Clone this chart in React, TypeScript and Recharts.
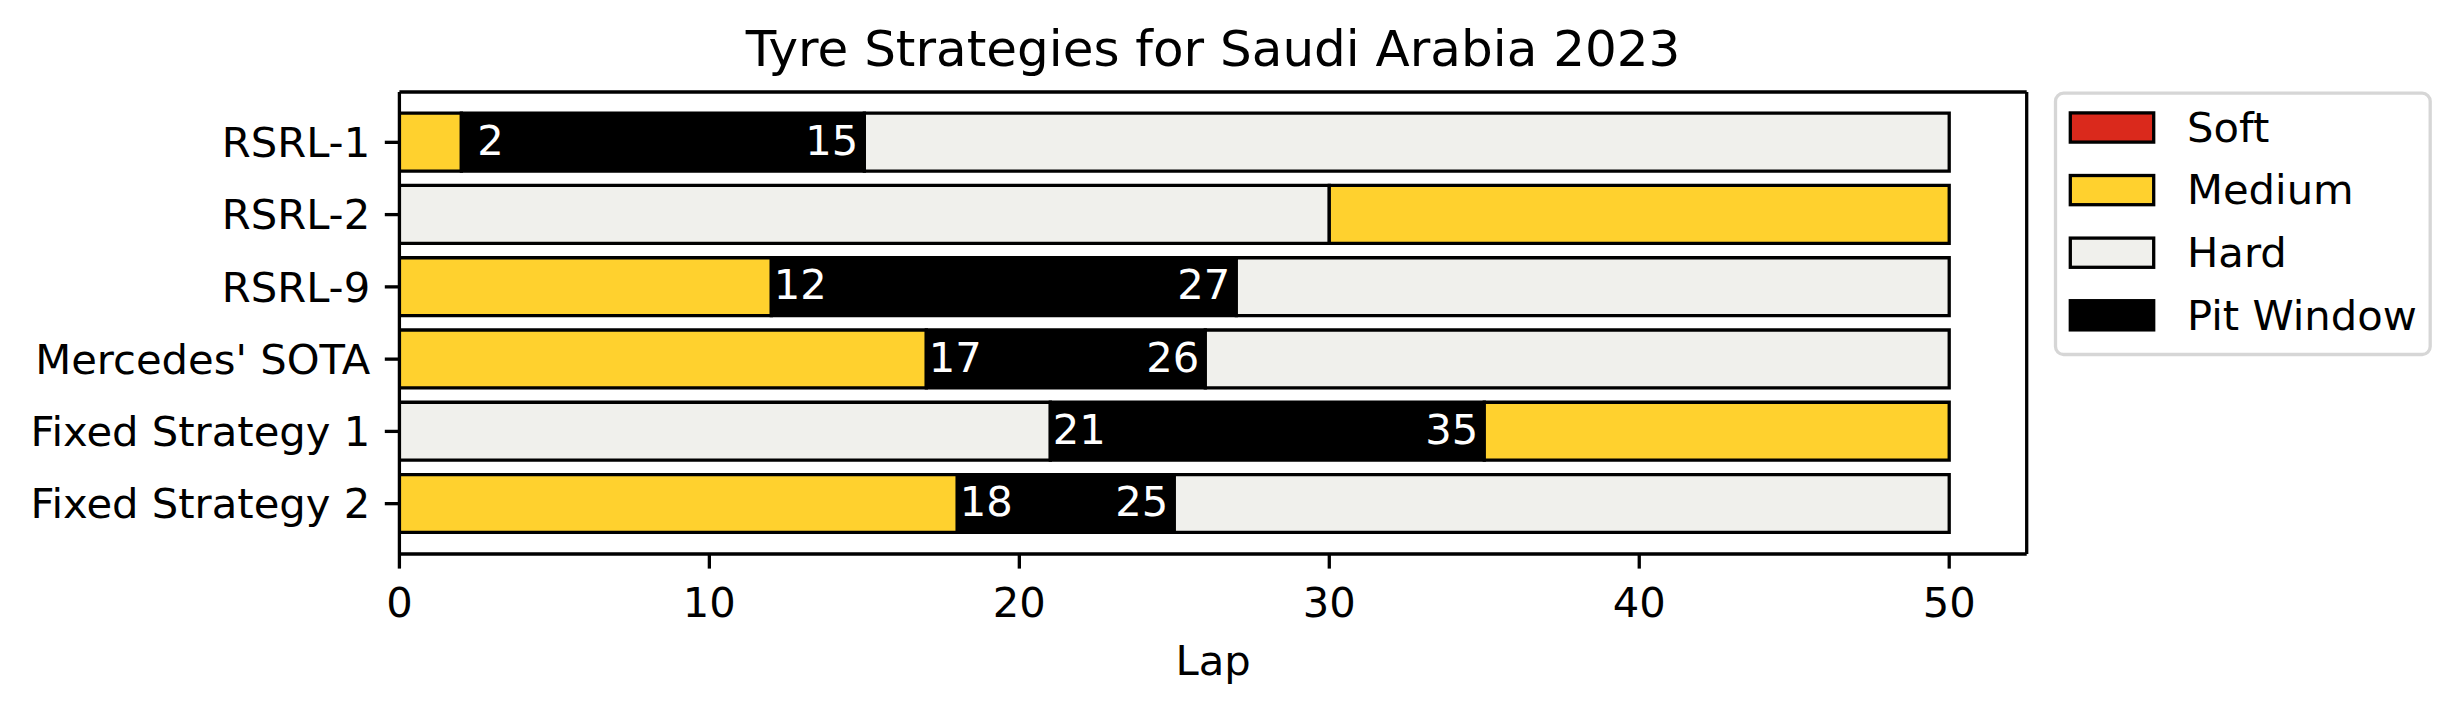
import { BarChart, Bar, XAxis, YAxis, Legend, Cell, Rectangle } from 'recharts'

// strategies, top to bottom
const strategies = ['RSRL-1', 'RSRL-2', 'RSRL-9', "Mercedes' SOTA", 'Fixed Strategy 1', 'Fixed Strategy 2']
const firstStint = ['MEDIUM', 'HARD', 'MEDIUM', 'MEDIUM', 'HARD', 'MEDIUM']
const secondStint = ['HARD', 'MEDIUM', 'HARD', 'HARD', 'MEDIUM', 'HARD']
const pitOpen = [2, 30, 12, 17, 21, 18]
const pitClose = [15, 30, 27, 26, 35, 25]
const raceLaps = 50
const lapTicks = [0, 10, 20, 30, 40, 50]
const legendItems = ['Soft', 'Medium', 'Hard', 'Pit Window']

const compoundColors: Record<string, string> = {
  SOFT: '#da291c',
  MEDIUM: '#ffd12e',
  HARD: '#f0f0ec',
}
const legendColors = [compoundColors.SOFT, compoundColors.MEDIUM, compoundColors.HARD, '#000000']

const rows = strategies.map((name, i) => ({
  name,
  first: pitOpen[i],
  pit: pitClose[i] - pitOpen[i],
  second: raceLaps - pitClose[i],
  open: pitOpen[i],
  close: pitClose[i],
}))

const FONT = 'DejaVu Sans'
const EDGE = 3.3

function PitWindow(props: any) {
  const { x, y, width, height, payload } = props
  if (!width || width <= 0) return null
  const base = y + height / 2 + 12.8
  return (
    <g>
      <Rectangle x={x} y={y} width={width} height={height} fill="#000" stroke="#000" strokeWidth={EDGE} />
      <text
        x={x + 2.5}
        y={base}
        fill="#fff"
        fontSize={41.7}
        fontFamily={FONT}
        xmlSpace="preserve"
        style={{ whiteSpace: 'pre' }}
      >
        {String(payload.open).padStart(2, ' ')}
      </text>
      <text x={x + width - 6} y={base} fill="#fff" fontSize={41.7} fontFamily={FONT} textAnchor="end">
        {payload.close}
      </text>
    </g>
  )
}

function StrategyLegend() {
  return (
    <svg width={392} height={275} style={{ display: 'block' }}>
      <rect x={5.5} y={5.2} width={374.7} height={261.3} rx={8} fill="#fff" stroke="#d6d6d6" strokeWidth={EDGE} />
      {legendItems.map((label, i) => {
        const cy = 39.5 + 62.6 * i
        return (
          <g key={label}>
            <rect x={20.3} y={cy - 14.6} width={83.4} height={29.2} fill={legendColors[i]} stroke="#000" strokeWidth={EDGE} />
            <text x={137} y={cy + 14.3} fontSize={41.7} fontFamily={FONT} fill="#000">
              {label}
            </text>
          </g>
        )
      })}
    </svg>
  )
}

export default function App() {
  const tickStyle = { fontSize: 41.7, fill: '#000', fontFamily: FONT }
  const lineStyle = { stroke: '#000', strokeWidth: EDGE }
  return (
    <div style={{ position: 'absolute', left: 0, top: 0, width: 2462, height: 714, background: '#fff', fontFamily: FONT }}>
      <BarChart
        width={2462}
        height={714}
        data={rows}
        layout="vertical"
        margin={{ top: 91, right: 434.3, bottom: 0, left: 0 }}
      >
        <XAxis
          type="number"
          domain={[0, 52.5]}
          ticks={lapTicks}
          allowDataOverflow
          height={160}
          tickSize={14.6}
          tickMargin={18.8}
          tick={tickStyle}
          axisLine={lineStyle}
          tickLine={lineStyle}
          label={{ value: 'Lap', position: 'insideBottom', offset: 39, fontSize: 41.7, fill: '#000', fontFamily: FONT }}
        />
        <XAxis
          xAxisId="top"
          orientation="top"
          type="number"
          domain={[0, 52.5]}
          allowDataOverflow
          height={1}
          tick={false}
          tickLine={false}
          axisLine={lineStyle}
          label={{
            value: 'Tyre Strategies for Saudi Arabia 2023',
            position: 'top',
            offset: 25,
            fontSize: 50,
            fill: '#000',
            fontFamily: FONT,
          }}
        />
        <YAxis
          type="category"
          dataKey="name"
          width={399.4}
          interval={0}
          padding={{ top: 14.2, bottom: 14.2 }}
          tickSize={14.6}
          tickMargin={14.6}
          tick={tickStyle}
          axisLine={lineStyle}
          tickLine={lineStyle}
        />
        <YAxis
          yAxisId="right"
          orientation="right"
          type="category"
          dataKey="name"
          width={1}
          tick={false}
          tickLine={false}
          axisLine={lineStyle}
        />
        <Bar dataKey="first" stackId="stint" barSize={57.9} stroke="#000" strokeWidth={EDGE} isAnimationActive={false}>
          {rows.map((_, i) => (
            <Cell key={`first-${i}`} fill={compoundColors[firstStint[i]]} />
          ))}
        </Bar>
        <Bar dataKey="pit" stackId="stint" barSize={57.9} fill="#000" shape={PitWindow} isAnimationActive={false} />
        <Bar dataKey="second" stackId="stint" barSize={57.9} stroke="#000" strokeWidth={EDGE} isAnimationActive={false}>
          {rows.map((_, i) => (
            <Cell key={`second-${i}`} fill={compoundColors[secondStint[i]]} />
          ))}
        </Bar>
        <Legend
          layout="vertical"
          align="center"
          verticalAlign="middle"
          wrapperStyle={{ left: 2050, top: 88, width: 392, height: 275 }}
          content={() => <StrategyLegend />}
        />
      </BarChart>
    </div>
  )
}
